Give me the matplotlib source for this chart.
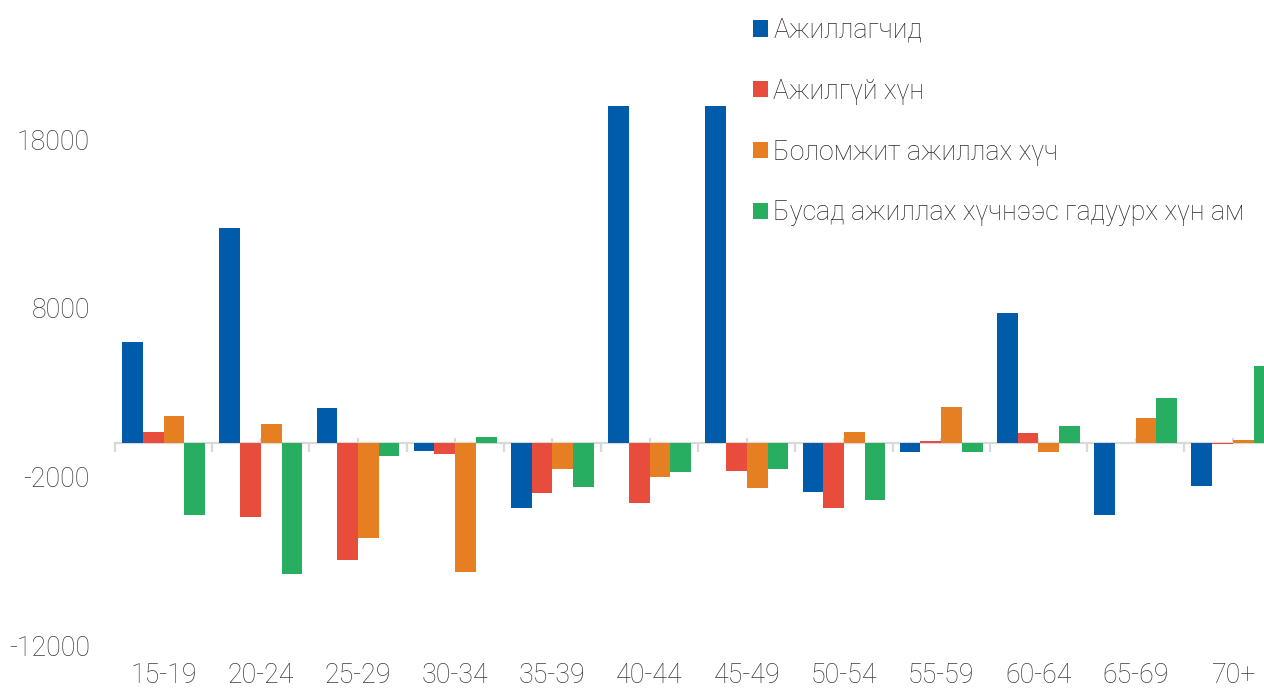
import matplotlib
matplotlib.use("Agg")
import matplotlib.pyplot as plt
import numpy as np
from matplotlib.ticker import FixedLocator

categories = ["15-19", "20-24", "25-29", "30-34", "35-39", "40-44",
              "45-49", "50-54", "55-59", "60-64", "65-69", "70+"]
series_names = ["Ажиллагчид", "Ажилгүй хүн", "Боломжит ажиллах хүч",
                "Бусад ажиллах хүчнээс гадуурх хүн ам"]
employed = [5940, 12700, 2030, -500, -3900, 19950, 19950, -2930, -540, 7700, -4310, -2590]
unemployed = [650, -4440, -6980, -650, -2960, -3600, -1660, -3880, 120, 550, 0, -100]
labour_force = [1560, 1100, -5670, -7670, -1540, -2020, -2710, 650, 2090, -580, 1440, 150]
outside = [-4320, -7800, -790, 360, -2660, -1740, -1540, -3420, -580, 970, 2630, 4540]
y_ticks = [18000, 8000, -2000, -12000]
colors = ["#005BAA", "#E74C3C", "#E67E22", "#27AE60"]

plt.rcParams['font.family'] = ['Roboto', 'DejaVu Sans']
plt.rcParams['font.weight'] = 'light'
FS = 19.3

W, H = 1264, 689
fig = plt.figure(figsize=(W / 100, H / 100), dpi=100)
left = 115 / W
width = 1166.4 / W
bottom = (H - 645) / H
height = 640.9 / H
ax = fig.add_axes([left, bottom, width, height])

x = np.arange(len(categories))
bw = 0.213
handles = []
for i, (vals, name, c) in enumerate(zip([employed, unemployed, labour_force, outside], series_names, colors)):
    b = ax.bar(x + (i - 1.5) * bw, vals, width=bw, color=c, label=name, zorder=2,
               edgecolor=c, linewidth=0)
    handles.append(b)

ax.set_xlim(-0.5, len(categories) - 0.5)
ax.set_ylim(-12000, 26000)

for s in ["left", "right", "top"]:
    ax.spines[s].set_visible(False)
ax.spines["bottom"].set_position(("data", 0))
ax.spines["bottom"].set_color("#d9d9d9")
ax.spines["bottom"].set_linewidth(1.6)
ax.spines["bottom"].set_zorder(1)

ax.xaxis.set_major_locator(FixedLocator(np.arange(-0.5, len(categories), 1.0)))
ax.xaxis.set_minor_locator(FixedLocator(x))
ax.tick_params(axis="x", which="major", direction="out", length=6.5, width=1.6,
               color="#d9d9d9", labelbottom=False)
ax.tick_params(axis="x", which="minor", direction="in", length=3.8, width=1.6,
               color="#d9d9d9", labelbottom=False)

sec = ax.secondary_xaxis(0.0)
sec.set_xticks(x)
sec.set_xticklabels(categories)
sec.spines["bottom"].set_visible(False)
sec.tick_params(axis="x", length=0, pad=12.5, labelsize=FS, labelcolor="#3a3a3a")

ax.set_yticks(y_ticks)
ax.set_yticklabels([str(v) for v in y_ticks])
ax.tick_params(axis="y", length=0, pad=18, labelsize=FS, labelcolor="#3a3a3a")

fig.legend(handles=handles, labels=series_names, loc="upper left",
           bbox_to_anchor=(753 / W, 1 - 17 / H), bbox_transform=fig.transFigure,
           frameon=False, fontsize=FS, handlelength=0.56, handleheight=0.56,
           handletextpad=0.2, labelspacing=1.26, borderpad=0, borderaxespad=0,
           labelcolor="#2a2a2a")

fig.savefig("out.png", dpi=100)
